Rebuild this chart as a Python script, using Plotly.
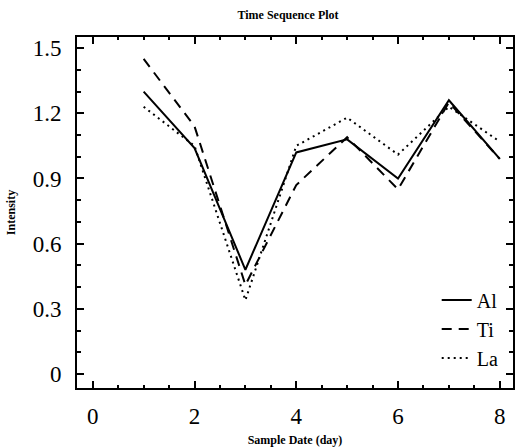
import plotly.graph_objects as go

days = [1, 2, 3, 4, 5, 6, 7, 8]
al = [1.30, 1.04, 0.48, 1.02, 1.08, 0.90, 1.26, 0.99]
ti = [1.45, 1.14, 0.41, 0.87, 1.09, 0.85, 1.25, 0.99]
la = [1.23, 1.05, 0.34, 1.05, 1.18, 1.01, 1.23, 1.07]

series = [("Al", al, "solid"), ("Ti", ti, "10px,7px"), ("La", la, "2px,4px")]

fig = go.Figure()
for name, vals, dash in series:
    fig.add_trace(go.Scatter(x=days, y=vals, mode="lines", name=name,
                             line=dict(color="black", width=2, dash=dash)))

serif = "Liberation Serif"
axis_common = dict(
    showgrid=False, zeroline=False, showline=True, linecolor="black", linewidth=2,
    mirror="allticks", ticks="inside", ticklen=7, tickwidth=2, tickcolor="black",
    tickfont=dict(family=serif, size=23, color="black"),
)
fig.update_xaxes(range=[-0.31, 8.26], tickvals=[0, 2, 4, 6, 8],
                 minor=dict(dtick=0.5, tick0=0, ticks="inside", ticklen=3, tickwidth=2, tickcolor="black"),
                 ticklabelstandoff=6,
                 title=dict(text="<b>Sample Date (day)</b>", font=dict(family=serif, size=12, color="black"), standoff=8),
                 **axis_common)
fig.update_yaxes(range=[-0.064, 1.551], tickvals=[0, 0.3, 0.6, 0.9, 1.2, 1.5],
                 ticktext=["0", "0.3", "0.6", "0.9", "1.2", "1.5"],
                 minor=dict(dtick=0.1, tick0=0, ticks="inside", ticklen=4, tickwidth=2, tickcolor="black"),
                 ticklabelstandoff=9,
                 title=dict(text="<b>Intensity</b>", font=dict(family=serif, size=12, color="black"), standoff=14),
                 **axis_common)

fig.update_layout(
    width=515, height=447,
    margin=dict(l=77, r=0, t=37, b=59),
    paper_bgcolor="white", plot_bgcolor="white",
    title=dict(text="<b>Time Sequence Plot</b>", x=288/515, xanchor="center", y=1-15/447, yanchor="middle",
               font=dict(family=serif, size=12, color="black")),
    legend=dict(x=0.825, y=0.03, xanchor="left", yanchor="bottom", bgcolor="rgba(0,0,0,0)",
                font=dict(family=serif, size=20, color="black"), itemwidth=30,
                tracegroupgap=0, borderwidth=0),
    showlegend=True,
)
fig.write_html("out.html", config={"displayModeBar": False},
               post_script="document.body.style.margin='0';document.body.style.overflow='hidden';")
